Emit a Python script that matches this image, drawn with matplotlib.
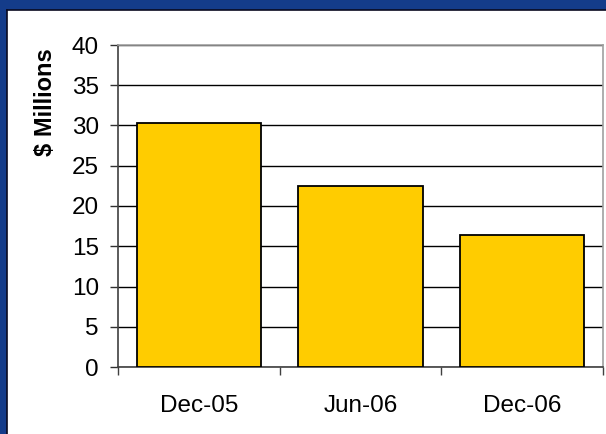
import matplotlib.pyplot as plt

# 数据
periods = ['Dec-05', 'Jun-06', 'Dec-06']
values = [30.3, 22.5, 16.4]
y_ticks = [0, 5, 10, 15, 20, 25, 30, 35, 40]

plt.rcParams['font.family'] = ['Liberation Sans', 'DejaVu Sans']

fig = plt.figure(figsize=(6.06, 4.34), dpi=100)
fig.patch.set_facecolor('#143C8A')
W, H = 606, 434

# 白色内框（用一个空坐标轴做背景）
bg = fig.add_axes([7 / W, -0.01, 1, (H - 10) / H + 0.01])
bg.set_facecolor('white')
bg.set_xticks([])
bg.set_yticks([])
for s in bg.spines.values():
    s.set_color('#0A0A20')
    s.set_linewidth(1.2)

ax = fig.add_axes([118 / W, (H - 367) / H, 485 / W, 322 / H])
ax.set_facecolor('none')
x = range(len(periods))
ax.bar(x, values, width=0.77, color='#FFCC00', edgecolor='black', linewidth=1.3, zorder=3)

ax.set_xlim(-0.5, 2.5)
ax.set_ylim(0, 40)
ax.set_yticks(y_ticks)
ax.yaxis.grid(True, color='black', linewidth=1.0, zorder=0)
ax.set_axisbelow(True)

ax.set_xticks(list(x))
ax.set_xticklabels(periods, fontsize=17.5)
ax.set_xticks([-0.5, 0.5, 1.5, 2.5], minor=True)
ax.tick_params(axis='x', which='major', length=0, pad=20)
ax.tick_params(axis='x', which='minor', length=5.8, width=1, color='#404040')
ax.tick_params(axis='y', length=5.8, width=1, labelsize=17.5, pad=8, color='#303030')

# 纵轴标题靠上放
ax.set_ylabel('$ Millions', fontsize=17, fontweight='bold')
ax.yaxis.set_label_coords(-0.126, 0.823)

for side in ['top', 'right']:
    ax.spines[side].set_color('#A0A0A0')
    ax.spines[side].set_linewidth(1.2)
for side in ['left', 'bottom']:
    ax.spines[side].set_color('#404040')
    ax.spines[side].set_linewidth(1.2)

plt.savefig('out.png', dpi=100, facecolor=fig.get_facecolor())
plt.close()
